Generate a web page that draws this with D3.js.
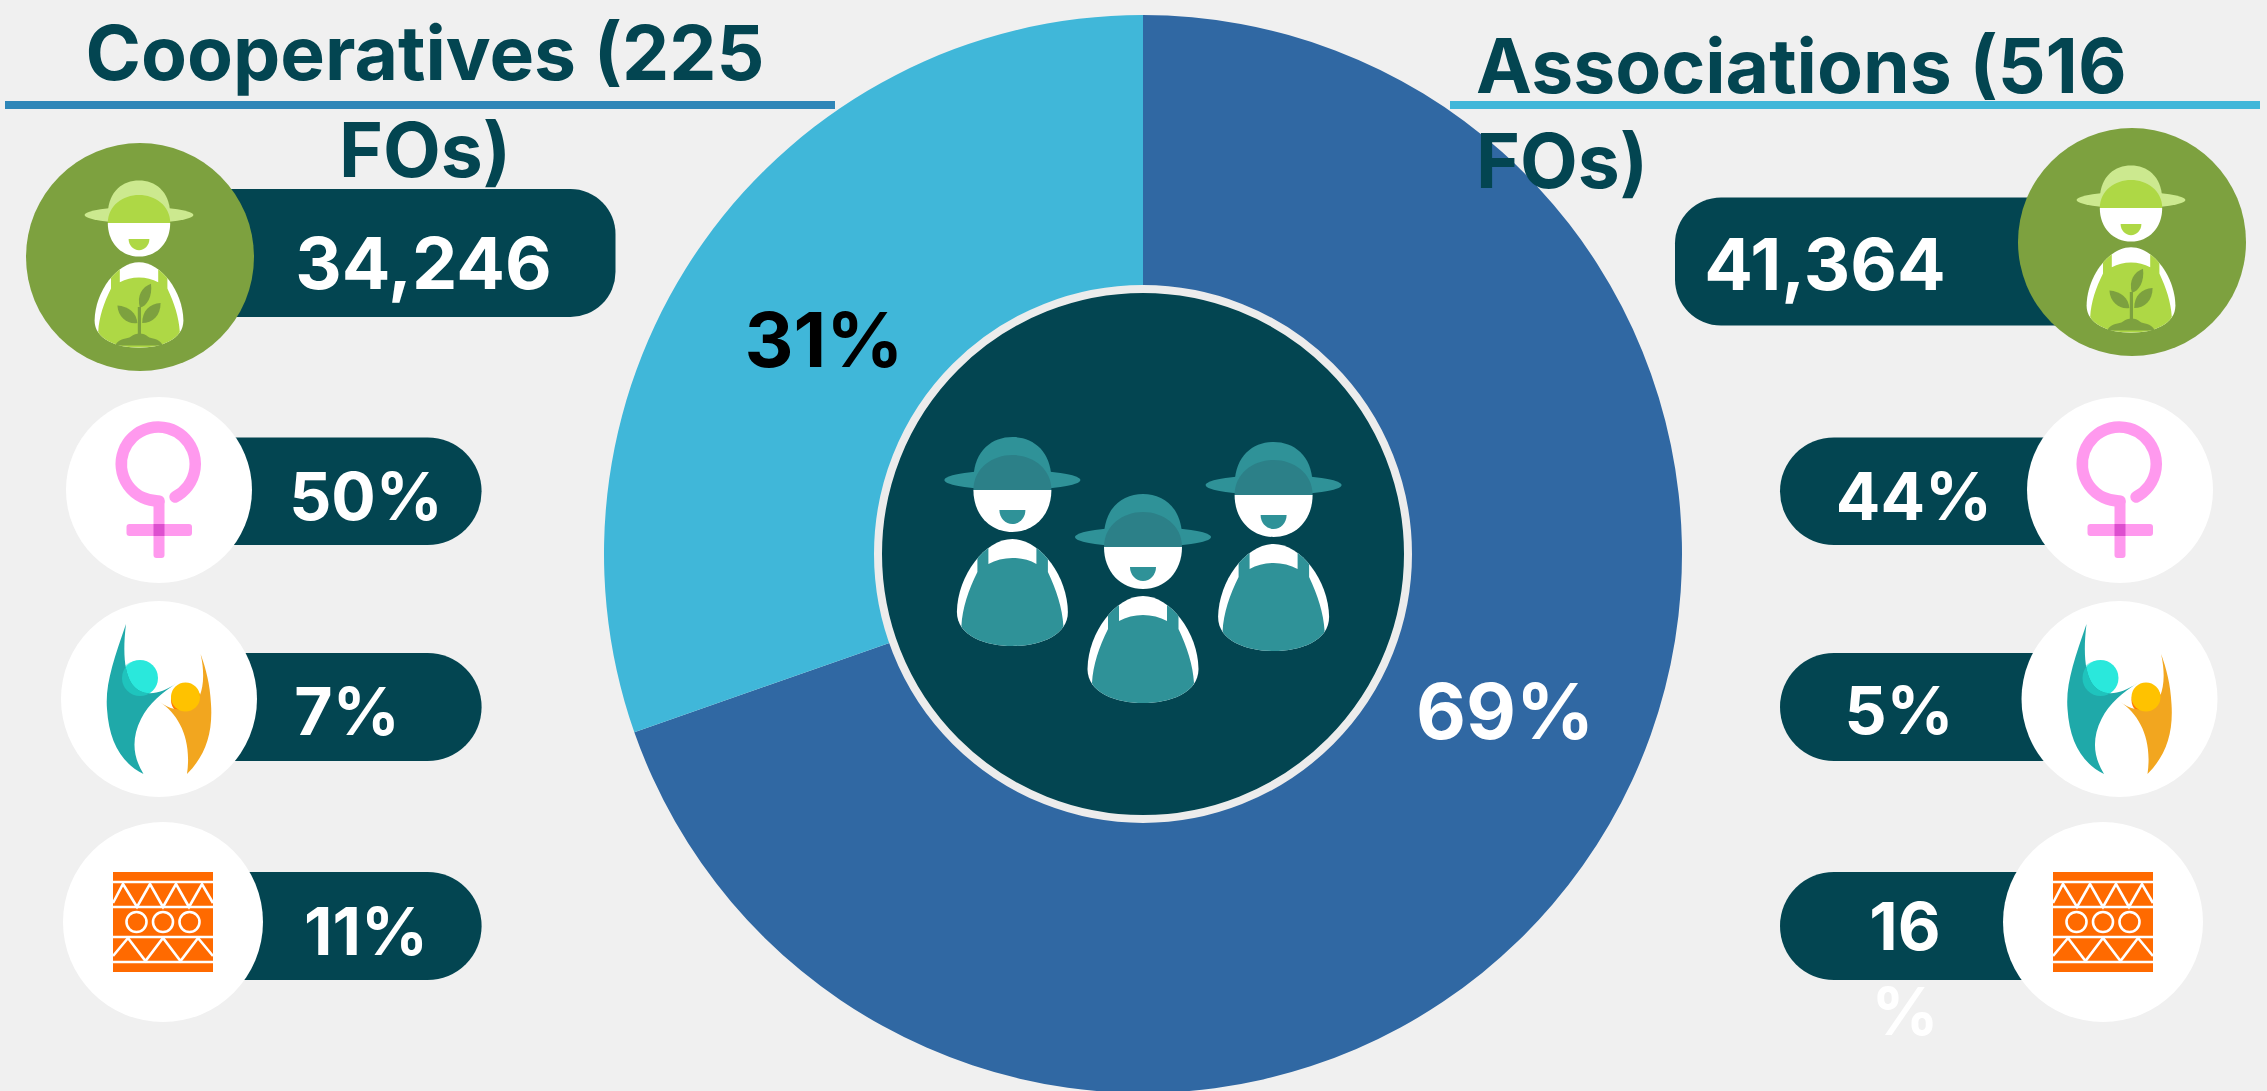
<!DOCTYPE html>
<html><head><meta charset="utf-8">
<script src="https://cdn.jsdelivr.net/npm/d3@7"></script>
<style>html,body{margin:0;padding:0;background:#f0f0f0;overflow:hidden}svg{display:block}text{font-family:Inter,sans-serif;font-weight:700}</style>
</head><body><svg id="c" width="2267" height="1091"></svg>
<script>
// ---- data ----
const pieCategories = ["Associations", "Cooperatives"];
const pieFOs = [516, 225];
const pieLabels = ["69%", "31%"];
const coopValues = ["34,246", "50%", "7%", "11%"];
const assocValues = ["41,364", "44%", "5%", "16%"];
const rowIcons = ["farmer", "women", "youth", "culture"];
const titles = ["Cooperatives (225 FOs)", "Associations (516 FOs)"];

// ---- layout ----
const DARK = "#034551", BLUE = "#3068a3", CYAN = "#40b7d9", GREEN = "#7da13f";
const svg = d3.select("#c");
const defs = svg.append("defs");
svg.append("rect").attr("width", 2267).attr("height", 1091).attr("fill", "#f0f0f0");
const cx = 1143, cy = 554, R = 539;

const color = d3.scaleOrdinal().domain(pieCategories).range([BLUE, CYAN]);
const pie = d3.pie().sort(null).value((d, i) => pieFOs[i]);
const arc = d3.arc().innerRadius(262).outerRadius(R);
const pg = svg.append("g").attr("transform", `translate(${cx},${cy})`);
pg.selectAll("path").data(pie(pieCategories)).join("path")
  .attr("d", arc).attr("fill", d => color(d.data));
pg.append("circle").attr("r", 265).attr("fill", DARK).attr("stroke", "#ececec").attr("stroke-width", 8);

// farmer pictogram
function farmer(g, x, y, s, c, id) {
  const f = g.append("g").attr("transform", `translate(${x},${y}) scale(${s})`);
  const body = "M0,49C27,49 55,85 55.5,122C55.5,146 27,156 0,156C-27,156 -55.5,146 -55.5,122C-55,85 -27,49 0,49Z";
  f.append("path").attr("d", "M-39,-12C-38,-40 -20,-53 0,-53C20,-53 38,-40 39,-12Z").attr("fill", c.hatLight);
  f.append("ellipse").attr("cy", -10).attr("rx", 68).attr("ry", 10).attr("fill", c.hatLight);
  f.append("path").attr("d", "M-39,0C-39,-22 -20,-35 0,-35C20,-35 39,-22 39,0Z").attr("fill", c.hat);
  f.append("path").attr("d", "M-39,0H39C39,25 22,42 0,42C-22,42 -39,25 -39,0Z").attr("fill", "#fff");
  f.append("path").attr("d", "M-13,20H13C13,28 7,34 0,34C-7,34 -13,28 -13,20Z").attr("fill", c.body);
  f.append("path").attr("d", body).attr("fill", "#fff");
  defs.append("clipPath").attr("id", id).append("path").attr("d", body);
  f.append("path").attr("clip-path", `url(#${id})`)
    .attr("d", "M-35,58V82C-44,100 -50,118 -51,136L-40,170H40L51,136C50,118 44,100 35.5,82V58L24,52V74C10,66 -10,66 -24,74V52Z")
    .attr("fill", c.body);
  if (c.plant) {
    const p = f.append("g").attr("fill", c.plant);
    p.append("path").attr("d", "M-1.5,105H2.5V146H-1.5Z");
    p.append("path").attr("d", "M15,76C4,80 -3,90 1,106C10,104 17,92 15,76Z");
    p.append("path").attr("d", "M-27,103C-26,118 -14,127 -2,125C-3,112 -13,104 -27,103Z");
    p.append("path").attr("d", "M27,100C13,101 4,110 4,125C17,125 27,116 27,100Z");
    p.append("path").attr("d", "M-30,153C-24,143 -15,146 -10,142C-4,137 6,137 11,142C16,146 24,143 30,153Z");
  }
}
const teal = { hatLight: "#2f9298", hat: "#2c8088", body: "#2f9298" };
farmer(pg, -130.6, -64, 1, teal, "f1");
farmer(pg, 0, -7, 1, teal, "f2");
farmer(pg, 130.6, -59, 1, teal, "f3");

// pie labels
svg.append("text").attr("x", 824).attr("y", 367).attr("text-anchor", "middle").attr("font-size", 76).attr("fill", "#000").text(pieLabels[1]);
svg.append("text").attr("x", 1505).attr("y", 739).attr("text-anchor", "middle").attr("font-size", 77).attr("fill", "#fff").text(pieLabels[0]);

// titles
function titleLine(x, y, t, anchor) {
  svg.append("text").attr("x", x).attr("y", y).attr("text-anchor", anchor).attr("font-size", 75).attr("fill", DARK).text(t);
}
titleLine(425, 80, titles[0].slice(0, 17), "middle");
titleLine(425, 177, titles[0].slice(18), "middle");
titleLine(1476, 93, titles[1].slice(0, 17), "start");
titleLine(1476, 188, titles[1].slice(18), "start");
svg.append("rect").attr("x", 5).attr("y", 101).attr("width", 830).attr("height", 8).attr("fill", "#2e86b8");
svg.append("rect").attr("x", 1450).attr("y", 101).attr("width", 810).attr("height", 8).attr("fill", CYAN);

// icons
function iconWomen(g) {
  g.append("circle").attr("r", 93).attr("fill", "#fff");
  const pink = "#ff99ee";
  g.append("path").attr("d", "M16,7A37,37 0 1 0 0,11").attr("fill", "none").attr("stroke", pink).attr("stroke-width", 11.5).attr("stroke-linecap", "round");
  g.append("rect").attr("x", -5.5).attr("y", 9).attr("width", 11).attr("height", 59).attr("rx", 3).attr("fill", pink);
  g.append("rect").attr("x", -32.5).attr("y", 34).attr("width", 65.5).attr("height", 12).attr("rx", 3).attr("fill", pink);
  g.append("rect").attr("x", -5.5).attr("y", 34).attr("width", 11).attr("height", 12).attr("fill", "#dd4fcf");
}
function iconYouth(g, id) {
  g.append("circle").attr("r", 98).attr("fill", "#fff");
  const fig = "M-33,-75C-45,-40 -54,-15 -52,10C-50,42 -38,64 -15.5,75C-26,58 -28,40 -18,20C-10,4 3,-6 18,-16C6,-8 -3,-5 -12,-6C-28,-8 -39,-25 -33,-75Z";
  g.append("circle").attr("cx", -19).attr("cy", -21).attr("r", 18).attr("fill", "#2ae8dc");
  g.append("circle").attr("cx", -22).attr("cy", -20).attr("r", 18).attr("fill", "#2ae8dc").attr("opacity", .5);
  g.append("path").attr("d", fig).attr("fill", "#1fa9a9");
  defs.append("clipPath").attr("id", id).append("circle").attr("cx", -19).attr("cy", -21).attr("r", 18);
  g.append("path").attr("d", fig).attr("fill", "#1fc4bd").attr("clip-path", `url(#${id})`);
  g.append("circle").attr("cx", 27).attr("cy", 1).attr("r", 15).attr("fill", "#ff7a00");
  g.append("path").attr("d", "M41.6,-45C46,-25 44,-12 41,-4C35,8 25,12 16,10C10,9 5,6 1,3C20,16 33,40 28,75C46,57 54,35 52,5C51,-15 47,-30 41.6,-45Z").attr("fill", "#f2a61f");
  g.append("circle").attr("cx", 26.5).attr("cy", -2).attr("r", 14.5).attr("fill", "#ffc200");
}
function iconCulture(g) {
  g.append("circle").attr("r", 100).attr("fill", "#fff");
  g.append("rect").attr("x", -50).attr("y", -50).attr("width", 100).attr("height", 100).attr("fill", "#ff6a00");
  const w = g.append("g").attr("stroke", "#fff").attr("stroke-width", 2.6).attr("fill", "none");
  [-40, -15, 15, 40].forEach(y => w.append("line").attr("x1", -50).attr("x2", 50).attr("y1", y).attr("y2", y));
  w.append("path").attr("d", "M-50,-19L-40,-38L-26,-15L-13,-38L0,-15L13,-38L26,-15L39,-38L50,-19");
  w.append("path").attr("d", "M-50,34L-35,16L-17.5,39L0,16L17.5,39L35,16L50,34");
  [-26.5, 0, 26.5].forEach(x => w.append("circle").attr("cx", x).attr("r", 10));
}
const green = { hatLight: "#cce98f", hat: "#aed845", body: "#aed845", plant: GREEN };
function drawIcon(kind, x, y, id) {
  const g = svg.append("g").attr("transform", `translate(${x},${y})`);
  if (kind === "farmer") {
    g.append("circle").attr("r", 114).attr("fill", GREEN);
    farmer(g, -1, -34, 0.8, green, id);
  } else if (kind === "women") iconWomen(g);
  else if (kind === "youth") iconYouth(g, id);
  else iconCulture(g);
}

// rows
const leftRows = [
  { top: 189, h: 128, r: 45, x0: 90, x1: 615.5, ix: 140, iy: 257, tx: 423.5, ty: 289, fs: 72 },
  { top: 437.5, h: 107.5, r: 54, x0: 110, x1: 481.6, ix: 159, iy: 490, tx: 366, ty: 520, fs: 66 },
  { top: 653, h: 108, r: 54, x0: 110, x1: 481.6, ix: 159, iy: 699, tx: 347, ty: 735, fs: 66 },
  { top: 872, h: 108, r: 54, x0: 110, x1: 481.6, ix: 163, iy: 922, tx: 366, ty: 954.5, fs: 66 }
];
const rightRows = [
  { top: 197.5, h: 128, r: 46, x0: 1675, x1: 2180, ix: 2132, iy: 242, tx: 1825, ty: 290, fs: 72 },
  { top: 437.5, h: 107.5, r: 54, x0: 1780, x1: 2170, ix: 2120, iy: 490, tx: 1914, ty: 520, fs: 66 },
  { top: 653, h: 108, r: 54, x0: 1780, x1: 2170, ix: 2119.5, iy: 699, tx: 1899, ty: 734, fs: 66 },
  { top: 872, h: 108, r: 54, x0: 1780, x1: 2150, ix: 2103, iy: 922, tx: 1905, ty: 949.5, fs: 66 }
];
function rows(vals, layout, side) {
  vals.forEach((v, i) => {
    const L = layout[i];
    svg.append("rect").attr("x", L.x0).attr("y", L.top).attr("width", L.x1 - L.x0).attr("height", L.h).attr("rx", L.r).attr("fill", DARK);
    drawIcon(rowIcons[i], L.ix, L.iy, side + i);
    const t = svg.append("text").attr("text-anchor", "middle").attr("fill", "#fff").attr("font-size", L.fs);
    if (v === "16%") {
      t.append("tspan").attr("x", L.tx).attr("y", L.ty).text("16");
      t.append("tspan").attr("x", L.tx).attr("y", L.ty + 85).text("%");
    } else t.attr("x", L.tx).attr("y", L.ty).text(v);
  });
}
rows(coopValues, leftRows, "l");
rows(assocValues, rightRows, "r");
</script></body></html>
